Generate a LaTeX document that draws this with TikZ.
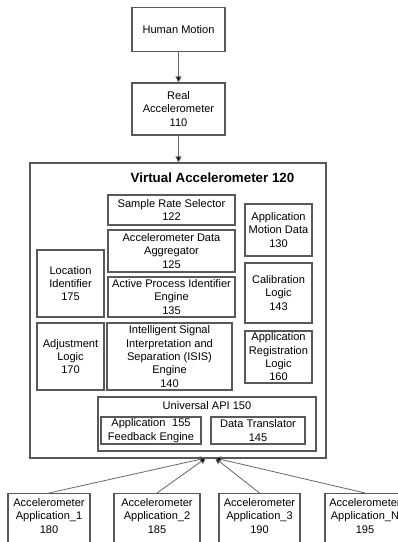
\documentclass[tikz,border=0pt]{standalone}
\usepackage{fontspec}
\setmainfont{Liberation Sans}
\usetikzlibrary{arrows.meta}
\tikzset{
  bx/.style={draw=black!65, line width=0.8pt, inner sep=0pt, align=center,
    font=\fontsize{8.3}{10}\selectfont},
  txt/.style={inner sep=0pt, align=center, font=\fontsize{8.3}{10}\selectfont},
  conn/.style={draw=black!60, line width=0.6pt, -{Triangle[length=4.5pt,width=4.5pt,fill=black]}},
}
\begin{document}
\begin{tikzpicture}[x=0.75pt,y=-0.75pt]
\useasboundingbox (0,0) rectangle (398,542);
\clip (0,0) rectangle (398,542);
% top chain
\node[bx, minimum width=93*0.75pt, minimum height=44*0.75pt] (hm) at (178.5,29.5) {Human Motion};
\node[bx, minimum width=93*0.75pt, minimum height=52*0.75pt] (ra) at (178.5,109) {Real\\Accelerometer\\110};
\node[bx, minimum width=296*0.75pt, minimum height=295*0.75pt] (va) at (178,310.5) {};
\node[txt, font=\fontsize{10}{12}\selectfont\bfseries] (vat) at (212.5,177.5) {Virtual Accelerometer 120};
\draw[conn] (hm.south) -- (ra.north);
\draw[conn] (ra.south) -- (ra.south |- va.north);
% inner column
\node[bx, minimum width=127*0.75pt, minimum height=30*0.75pt] (srs) at (171.5,210) {Sample Rate Selector\\122};
\node[bx, minimum width=127*0.75pt, minimum height=42*0.75pt] (ada) at (171.5,251) {Accelerometer Data\\Aggregator\\125};
\node[bx, minimum width=127*0.75pt, minimum height=40*0.75pt] (api) at (171.5,297) {Active Process Identifier\\Engine\\135};
\node[bx, minimum width=125*0.75pt, minimum height=67*0.75pt] (isis) at (169.5,356.5) {Intelligent Signal\\Interpretation and\\Separation (ISIS)\\Engine\\140};
% left column
\node[bx, minimum width=67*0.75pt, minimum height=67*0.75pt] (loc) at (70.5,283.5) {Location\\Identifier\\175};
\node[bx, minimum width=67*0.75pt, minimum height=67*0.75pt] (adj) at (70.5,356.5) {Adjustment\\Logic\\170};
% right column
\node[bx, minimum width=67*0.75pt, minimum height=52*0.75pt] (amd) at (278.5,230) {Application\\Motion Data\\130};
\node[bx, minimum width=67*0.75pt, minimum height=60*0.75pt] (cal) at (278.5,293) {Calibration\\Logic\\143};
\node[bx, minimum width=67*0.75pt, minimum height=52*0.75pt] (arl) at (278.5,357) {Application\\Registration\\Logic\\160};
% universal api
\node[bx, minimum width=218*0.75pt, minimum height=54*0.75pt] (uapi) at (207,424) {};
\node[txt] (uapit) at (207,406) {Universal API 150};
\node[bx, minimum width=100*0.75pt, minimum height=27*0.75pt] (afe) at (151,430.5) {Application\hspace{0.6em}155\\Feedback Engine};
\node[bx, minimum width=94*0.75pt, minimum height=27*0.75pt] (dt) at (258,430.5) {Data Translator\\145};
% bottom applications
\node[bx, minimum width=82*0.75pt, minimum height=62*0.75pt, anchor=north] (a1) at (49,493) {};
\node[bx, minimum width=86*0.75pt, minimum height=62*0.75pt, anchor=north] (a2) at (157,493) {};
\node[bx, minimum width=81*0.75pt, minimum height=62*0.75pt, anchor=north] (a3) at (259.5,493) {};
\node[bx, minimum width=80*0.75pt, minimum height=62*0.75pt, anchor=north] (an) at (365,493) {};
\node[txt] (a1t) at (49,516) {Accelerometer\\Application\_1\\180};
\node[txt] (a2t) at (157,516) {Accelerometer\\Application\_2\\185};
\node[txt] (a3t) at (259.5,516) {Accelerometer\\Application\_3\\190};
\node[txt] (ant) at (365,516) {Accelerometer\\Application\_N\\195};
\coordinate (t1) at (206,458);
\coordinate (t2) at (215,458);
\draw[conn] (a1.north) -- (t1);
\draw[conn] (a2.north) -- (t1);
\draw[conn] (a3.north) -- (t2);
\draw[conn] (an.north) -- (t2);
\end{tikzpicture}
\end{document}
